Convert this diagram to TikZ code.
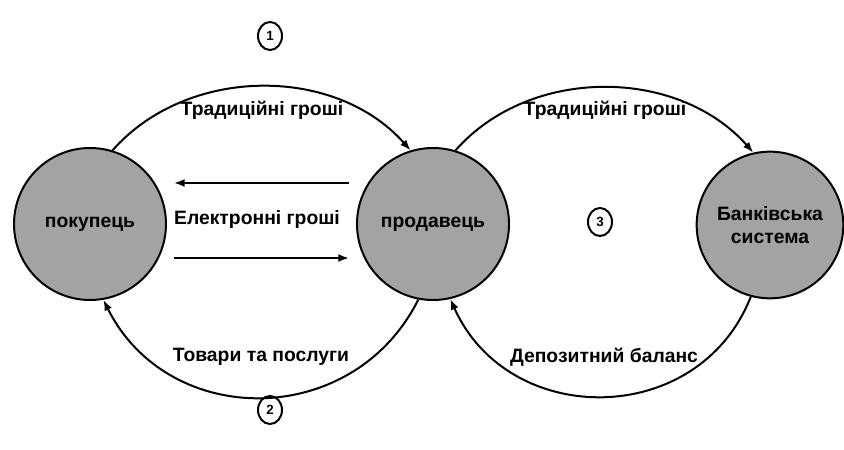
\documentclass[tikz,border=0pt]{standalone}
\usepackage{fontspec}
\setmainfont{Liberation Sans}
\usetikzlibrary{arrows.meta,shapes.geometric}

\begin{document}
\begin{tikzpicture}[
    x=0.75pt, y=0.75pt,
    font=\bfseries\fontsize{14.5}{17}\selectfont,
    line width=1.5pt,
    party/.style={circle, draw, fill=gray!72, minimum size=114pt, inner sep=0pt, align=center},
    flow/.style={-{Latex[length=8pt,width=6pt]}},
    stage/.style={ellipse, draw, line width=1.5pt, minimum width=18pt, minimum height=21pt,
      inner sep=0pt, font=\bfseries\fontsize{10}{12}\selectfont}
  ]
  \useasboundingbox (0,0) rectangle (844,450);

  \node[party] (buyer) at (90,226) {покупець};
  \node[party] (seller) at (433,226) {продавець};
  \node[party, minimum size=110pt] (bank) at (770,225) {Банківська\\система};

  % left loop
  \draw[flow] (buyer.73) .. controls +(75,85) and +(-75,85) .. (seller.107);
  \draw[flow] (seller.-101) .. controls +(-65,-130) and +(65,-130) .. (buyer.-80);
  \draw[flow] ([shift={(-7,41)}]seller.west) -- ([shift={(7,41)}]buyer.east);
  \draw[flow] ([shift={(7,-34)}]buyer.east) -- ([shift={(-7,-34)}]seller.west);

  % right loop
  \draw[flow] (seller.73) .. controls +(75,85) and +(-75,85) .. (bank.103);
  \draw[flow] (bank.-105) .. controls +(-52,-132) and +(58,-130) .. (seller.-77);

  \node (cash1) at (262,340) {Традиційні гроші};
  \node (cash2) at (605,340) {Традиційні гроші};
  \node (emoney) at (257,230) {Електронні гроші};
  \node (goods) at (261,93) {Товари та послуги};
  \node (deposit) at (604,93) {Депозитний баланс};

  \node[stage] (n1) at (270,414) {1};
  \node[stage] (n2) at (270,40) {2};
  \node[stage] (n3) at (600,228) {3};
\end{tikzpicture}
\end{document}
